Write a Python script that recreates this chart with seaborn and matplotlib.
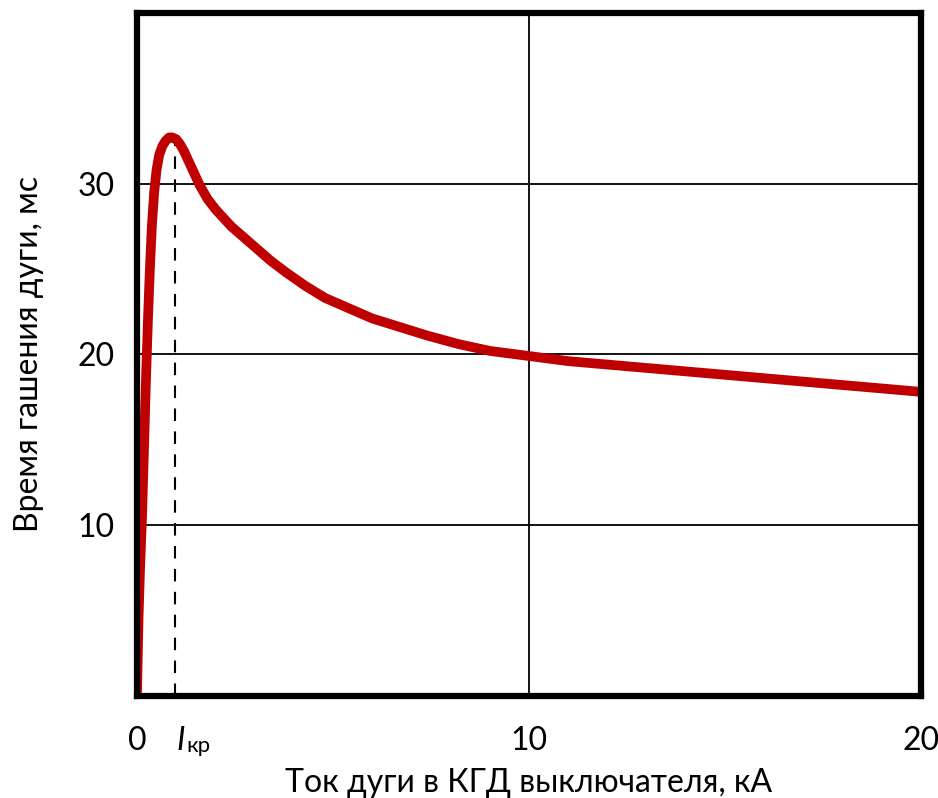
import matplotlib
matplotlib.use("Agg")
import matplotlib.pyplot as plt
import seaborn as sns
import pandas as pd

# data
current_kA = [0.0, 0.04, 0.08, 0.13, 0.18, 0.23, 0.28, 0.33, 0.38, 0.44, 0.5,
              0.57, 0.65, 0.73, 0.82, 0.9, 1.0, 1.1, 1.2, 1.3, 1.4, 1.5, 1.6,
              1.7, 1.8, 1.9, 2.0, 2.2, 2.4, 2.7, 3.0, 3.4, 3.8, 4.3, 4.8, 5.4,
              6.0, 6.7, 7.4, 8.2, 9.0, 10.0, 11.0, 12.0, 13.0, 14.0, 15.0, 16.0,
              17.0, 18.0, 19.0, 20.0]
time_ms = [0.0, 4.5, 7.5, 10.5, 14.5, 18.5, 22.0, 25.0, 27.5, 29.5, 30.8,
           31.7, 32.2, 32.5, 32.7, 32.7, 32.6, 32.3, 31.9, 31.4, 30.9, 30.4, 29.9,
           29.5, 29.1, 28.8, 28.5, 28.0, 27.5, 26.9, 26.3, 25.5, 24.8, 24.0, 23.3, 22.7,
           22.1, 21.6, 21.1, 20.6, 20.2, 19.9, 19.6, 19.4, 19.2, 19.0, 18.8, 18.6,
           18.4, 18.2, 18.0, 17.8]
i_kr = 0.97
i_kr_peak = 32.6
x_ticks = [0, 10, 20]
x_tick_labels = ["0", "10", "20"]
y_ticks = [10, 20, 30]
y_tick_labels = ["10", "20", "30"]

df = pd.DataFrame({"I": current_kA, "t": time_ms})

sns.set_theme(style="white")
plt.rcParams["font.family"] = ["Lato", "DejaVu Sans"]

fig = plt.figure(figsize=(9.38, 7.98), dpi=100)
ax = fig.add_axes([0.146, 0.128, 0.836, 0.856])

ax.set_xlim(0, 20)
ax.set_ylim(0, 40)
ax.set_xticks(x_ticks)
ax.set_xticklabels(x_tick_labels)
ax.set_yticks(y_ticks)
ax.set_yticklabels(y_tick_labels)
ax.tick_params(axis="x", length=0, labelsize=23, colors="black", pad=22)
ax.tick_params(axis="y", length=0, labelsize=23, colors="black", pad=16)

ax.axvline(10, color="black", lw=1.3, zorder=1)
for v in y_ticks:
    ax.axhline(v, color="black", lw=1.3, zorder=1)

ax.plot([i_kr, i_kr], [0, i_kr_peak], color="black", lw=1.5,
        dashes=(6, 5), zorder=2)

sns.lineplot(data=df, x="I", y="t", ax=ax, color="#C00000", lw=7,
             zorder=3, sort=False)

for s in ax.spines.values():
    s.set_visible(True)
    s.set_color("black")
    s.set_linewidth(4.5)
    s.set_zorder(5)

ax.set_xlabel("Ток дуги в КГД выключателя, кА", fontsize=23, color="black", labelpad=8)
ax.set_ylabel("Время гашения дуги, мс", fontsize=23, color="black", labelpad=24)

# I_kr label
ax.annotate("I", xy=(i_kr, 0), xycoords="data", xytext=(4, -22),
            textcoords="offset points", fontsize=23, style="italic",
            ha="center", va="top", color="black")
ax.annotate("кр", xy=(i_kr, 0), xycoords="data", xytext=(17, -29),
            textcoords="offset points", fontsize=16,
            ha="center", va="top", color="black")

fig.savefig("out.png", dpi=100)
